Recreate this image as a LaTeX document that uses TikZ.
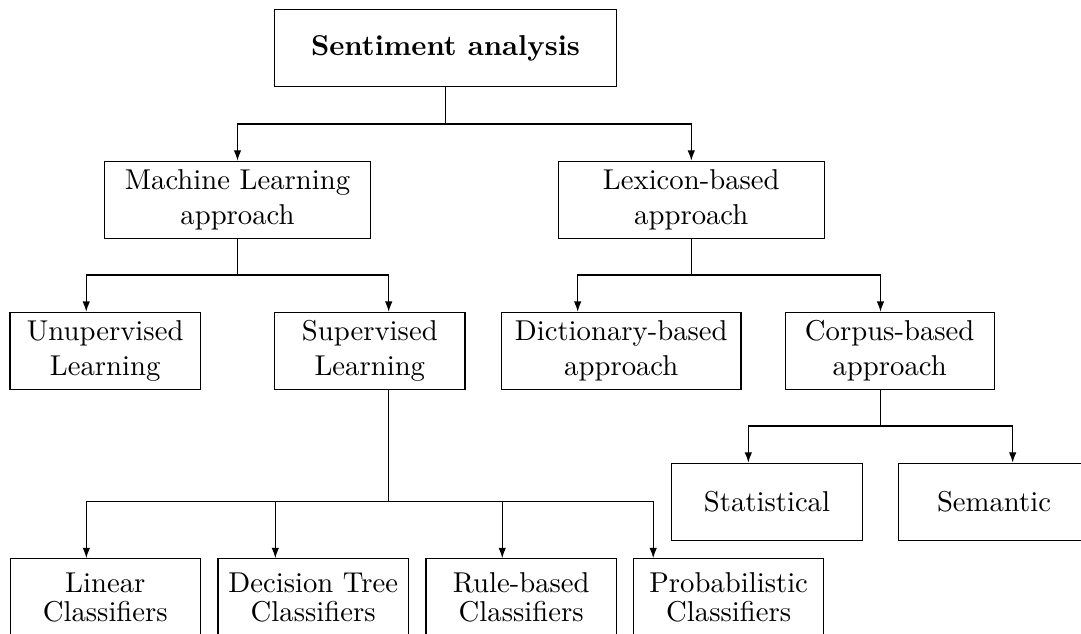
\documentclass[tikz,border=0pt]{standalone}
\usepackage{tikz}
\usetikzlibrary{
	arrows.meta,
	positioning
}
\tikzset{
  % arrow
	cstra/.style      ={-{Latex[length=3.6pt,width=2.6pt]}}, % down arrow
  % node
	cstnode/.style    ={fill=white,draw=black,text=black,align=center,inner sep=2pt,minimum width=66.3pt,minimum height=26.8pt},
	cstnodew/.style   ={cstnode,minimum width=92.6pt}
}
\begin{document}
\begin{tikzpicture}[x=0.3484pt,y=-0.3484pt]
				\useasboundingbox (0,0) rectangle (1081,633);
				% level 0 and 1
				\node[cstnode,minimum width=119pt] (sa) at (445.5,48.2) {\textbf{Sentiment analysis}};
				\node[cstnodew] (ml) at (237.5,199.7) {Machine Learning\\approach};
				\node[cstnodew] (lex) at (691.3,199.7) {Lexicon-based\\approach};
				% level 2
				\node[cstnode] (unsup) at (105.2,350.8) {Unupervised\\Learning};
				\node[cstnode] (sup) at (369.8,350.8) {Supervised\\Learning};
				\node[cstnode,minimum width=83.4pt] (dict) at (621.3,350.8) {Dictionary-based\\approach};
				\node[cstnode,minimum width=72.9pt] (corpus) at (889.7,350.8) {Corpus-based\\approach};
				\node[cstnode] (stat) at (767,501.7) {Statistical};
				\node[cstnode] (sem) at (994,501.7) {Semantic};
				% classifiers
				\node[cstnode] (lin) at (105.3,597.2) {Linear\\[-2pt]Classifiers};
				\node[cstnode] (dec) at (313.2,597.2) {Decision Tree\\[-2pt]Classifiers};
				\node[cstnode] (rule) at (521.2,597.2) {Rule-based\\[-2pt]Classifiers};
				\node[cstnode] (prob) at (728.7,597.2) {Probabilistic\\[-2pt]Classifiers};
				% buses
				\coordinate (b1) at (445.5,124);
				\coordinate (b2) at (237.5,275);
				\coordinate (b3) at (691.3,275);
				\coordinate (b4) at (388.7,501.7);
				\coordinate (b5) at (880.5,426);
				\draw (sa.south) -- (b1);
				\draw[cstra] (b1) -| (ml.north);
				\draw[cstra] (b1) -| (lex.north);
				\draw (ml.south) -- (b2);
				\draw[cstra] (b2) -| ([xshift=-6.6pt]unsup.north);
				\draw[cstra] (b2) -| (b4 |- sup.north);
				\draw (lex.south) -- (b3);
				\draw[cstra] (b3) -| ([xshift=-15.2pt]dict.north);
				\draw[cstra] (b3) -| (b5 |- corpus.north);
				\draw (b5 |- corpus.south) -- (b5);
				\draw[cstra] (b5) -| ([xshift=-6.5pt]stat.north);
				\draw[cstra] (b5) -| ([xshift=6.5pt]sem.north);
				\draw (b4 |- sup.south) -- (b4);
				\draw[cstra] (b4) -| ([xshift=-6.6pt]lin.north);
				\draw[cstra] (b4) -| ([xshift=-13.2pt]dec.north);
				\draw[cstra] (b4) -| ([xshift=-6.6pt]rule.north);
				\draw[cstra] (b4) -| ([xshift=-26.3pt]prob.north);
			\end{tikzpicture}
\end{document}
